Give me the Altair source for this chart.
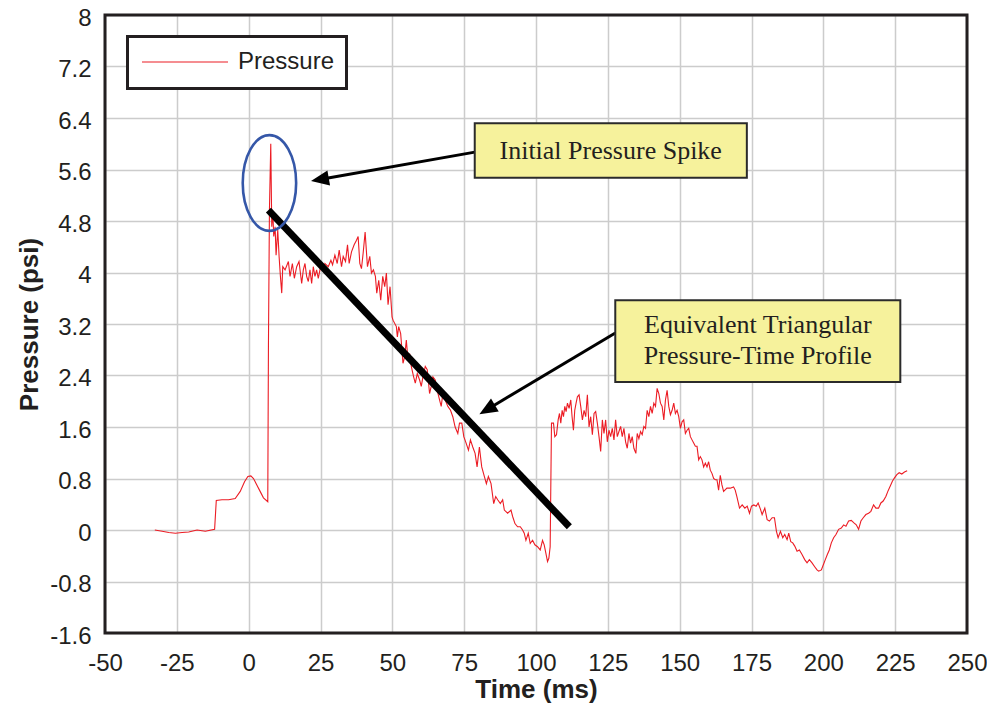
import altair as alt
import pandas as pd

# ---- Pressure trace (time in ms, pressure in psi) ----
time_ms = [
    -32.66, -30.11, -27.80, -25.49, -23.18, -20.86, -17.97, -15.08, -11.85, -11.27,
    -9.30, -6.99, -4.68, -2.94, -1.44, -0.28, 0.76, 1.68, 2.84, 3.99,
    5.15, 6.65, 6.88, 7.23, 7.69,
    8.04, 8.39, 8.73, 9.20, 9.54, 10.12, 10.59, 11.05, 11.51, 11.86,
    12.67, 13.82, 14.40, 15.21, 15.90, 16.71, 17.52, 18.45, 19.02, 19.60,
    20.18, 20.76, 21.34, 21.92, 22.49, 23.07, 23.65, 24.23, 25.15, 25.96,
    26.54, 27.70, 28.62, 29.20, 30.01, 30.82, 31.51, 32.32, 32.90, 33.71,
    34.40, 34.98, 35.79, 36.71, 37.53, 38.10, 38.68, 39.26, 39.84, 40.53,
    41.34, 42.15, 42.73, 43.42, 44.11, 44.58, 45.27, 45.96, 46.66, 47.35,
    47.93, 48.51, 49.20, 49.90,
    50.24, 51.40, 51.75, 52.21, 52.90, 53.71, 54.29, 54.87, 55.45, 56.02,
    56.60, 57.41, 57.99, 58.68, 59.49, 60.07, 60.65, 61.46, 62.15, 62.96,
    63.54, 64.12, 64.93, 65.62, 66.43, 67.01, 67.59, 68.40, 69.32, 70.25,
    71.05, 71.86, 72.79, 73.37, 74.18, 74.87, 75.68, 76.49, 77.18, 77.99,
    78.80, 79.49, 80.30, 81.11, 82.04, 82.73, 83.43, 84.35, 85.28, 85.97,
    86.66, 87.59, 88.40, 88.98, 90.13, 91.29, 91.87, 92.68, 93.60, 94.53,
    95.33, 95.91, 96.49, 97.30, 97.99, 98.80, 99.61, 100.54, 101.46, 102.27,
    102.85, 103.43, 104.01, 104.47, 104.93, 105.39,
    106.09, 106.55, 107.13, 107.71, 108.17, 108.63, 109.10, 109.56, 110.02, 110.48,
    110.95, 111.52, 112.10, 112.56, 113.03, 113.49, 113.95, 114.41, 114.99, 115.57,
    116.15, 116.73, 117.30, 117.88, 118.46, 119.04, 119.62, 120.20, 120.77, 121.35,
    121.93, 122.51, 123.09, 123.66, 124.24, 124.82, 125.40, 125.98, 126.55, 127.13,
    127.71, 128.29, 128.87, 129.45, 130.02, 130.60, 131.18, 131.76, 132.34, 132.91,
    133.49, 134.07, 134.76, 135.23, 135.80, 136.38, 136.96, 137.54, 138.12, 138.69,
    139.27, 139.85, 140.43, 141.01, 141.59, 142.16, 142.74, 143.32, 143.90, 144.48,
    145.05, 145.63, 146.21, 146.79, 147.37, 147.94, 148.52, 149.10, 149.68, 150.26,
    150.83, 151.41, 151.99, 152.57, 153.15, 153.73, 154.30, 154.88, 155.46, 156.04,
    156.62, 157.19, 157.77, 158.35, 158.93, 159.51, 160.08, 160.66, 161.24, 161.82,
    162.40, 162.98, 163.55, 164.13, 164.71, 165.29, 166.44, 167.60, 168.76, 169.33,
    169.91,
    170.83, 171.76, 172.69, 173.50, 174.31, 175.00, 175.81, 176.62, 177.31, 178.13,
    178.70, 179.63, 180.44, 181.25, 182.18, 182.99, 183.68, 184.26, 185.07, 185.88,
    186.57, 187.38, 187.96, 188.66, 189.35, 190.05, 190.86, 191.67, 192.59, 193.52,
    194.33, 195.14, 196.06, 196.99, 197.80, 198.38, 199.31, 200.00, 200.69, 201.39,
    202.08, 202.78, 203.59, 204.40, 205.32, 206.25, 207.06, 207.87, 208.80, 209.72,
    210.65, 211.46, 212.27, 213.08, 213.89, 214.81, 215.74, 216.55, 217.48, 218.29,
    219.21, 220.02, 220.83, 221.76, 222.45, 223.26, 224.07, 224.77, 225.58, 226.39,
    227.31, 228.24, 229.17,
]
pressure_psi = [
    0.00, -0.02, -0.04, -0.05, -0.04, -0.03, 0.00, -0.02, 0.01, 0.46,
    0.47, 0.47, 0.49, 0.60, 0.75, 0.83, 0.84, 0.80, 0.70, 0.60,
    0.50, 0.44, 2.85, 4.97, 6.00,
    4.71, 4.95, 4.56, 4.71, 4.27, 4.66, 4.25, 3.94, 3.68, 4.09,
    4.04, 4.17, 3.94, 4.14, 3.91, 4.09, 4.17, 3.83, 4.04, 4.14,
    3.94, 3.86, 4.04, 3.83, 4.09, 3.94, 4.04, 3.91, 4.12, 4.04,
    4.14, 4.09, 4.19, 4.12, 4.27, 4.14, 4.35, 4.09, 4.25, 4.17,
    4.43, 4.14, 4.32, 4.43, 4.50, 4.56, 4.14, 4.06, 4.30, 4.63,
    4.09, 4.25, 3.99, 4.04, 3.94, 3.68, 3.88, 3.57, 3.94, 3.78,
    3.99, 3.50, 3.78, 3.31,
    3.26, 3.16, 3.00, 3.16, 3.05, 2.59, 2.69, 2.95, 2.64, 2.74,
    2.54, 2.38, 2.28, 2.43, 2.33, 2.23, 2.38, 2.54, 2.49, 2.12,
    2.23, 2.38, 2.33, 2.17, 2.02, 1.92, 2.12, 2.02, 1.92, 1.86,
    1.76, 1.60, 1.50, 1.66, 1.66, 1.45, 1.35, 1.24, 1.40, 1.29,
    1.19, 0.98, 1.29, 0.98, 0.83, 0.72, 0.83, 0.72, 0.41, 0.52,
    0.47, 0.41, 0.47, 0.31, 0.26, 0.31, 0.21, 0.10, 0.05, 0.05,
    0.00, -0.05, -0.16, -0.05, -0.21, -0.16, -0.23, -0.26, -0.31, -0.16,
    -0.23, -0.36, -0.49, -0.44, -0.26, 1.66,
    1.66, 1.45, 1.48, 1.71, 1.81, 1.66, 1.86, 1.76, 1.92, 1.84,
    1.97, 1.89, 2.02, 1.76, 1.55, 1.86, 1.97, 2.07, 2.10, 1.92,
    1.71, 1.86, 1.76, 2.10, 1.60, 1.76, 1.48, 1.81, 1.84, 1.66,
    1.45, 1.22, 1.71, 1.50, 1.71, 1.37, 1.55, 1.45, 1.58, 1.40,
    1.71, 1.45, 1.53, 1.61, 1.45, 1.58, 1.37, 1.27, 1.50, 1.35,
    1.45, 1.27, 1.19, 1.50, 1.42, 1.53, 1.48, 1.61, 1.58, 1.86,
    1.76, 1.92, 1.81, 1.97, 1.92, 2.20, 2.12, 1.97, 1.92, 1.71,
    2.02, 2.17, 1.92, 1.79, 1.86, 1.97, 1.81, 1.86, 1.76, 1.58,
    1.68, 1.71, 1.50, 1.55, 1.58, 1.45, 1.40, 1.35, 1.30, 1.30,
    1.09, 1.14, 1.09, 0.98, 1.04, 0.98, 1.06, 0.93, 0.88, 0.80,
    0.78, 0.78, 0.62, 0.85, 0.70, 0.60, 0.65, 0.65, 0.67, 0.62,
    0.52,
    0.34, 0.39, 0.34, 0.37, 0.26, 0.37, 0.39, 0.37, 0.42, 0.32,
    0.24, 0.34, 0.16, 0.14, 0.19, 0.19, -0.02, -0.12, -0.02, -0.12,
    -0.07, -0.15, -0.05, -0.18, -0.20, -0.25, -0.33, -0.31, -0.38, -0.46,
    -0.51, -0.46, -0.51, -0.57, -0.62, -0.64, -0.62, -0.54, -0.46, -0.38,
    -0.31, -0.20, -0.12, -0.07, 0.01, 0.03, 0.08, 0.06, 0.14, 0.15,
    0.11, 0.08, 0.01, 0.14, 0.19, 0.24, 0.26, 0.29, 0.39, 0.34,
    0.34, 0.42, 0.45, 0.52, 0.60, 0.68, 0.76, 0.81, 0.86, 0.89,
    0.87, 0.90, 0.92,
]
series_name = ["Pressure"]

# ---- Equivalent triangular profile ----
tri_time = [6.88, 111.6]
tri_pressure = [4.97, 0.05]

# ---- Axis ticks ----
x_ticks = [-50, -25, 0, 25, 50, 75, 100, 125, 150, 175, 200, 225, 250]
y_ticks = [-1.6, -0.8, 0, 0.8, 1.6, 2.4, 3.2, 4, 4.8, 5.6, 6.4, 7.2, 8]

# ---- Annotations (data coordinates) ----
ann_text = ["Initial Pressure Spike", "Equivalent Triangular", "Pressure-Time Profile"]
text_t = [126.0, 177.2, 177.2]
text_p = [5.895, 3.185, 2.705]
box_t0 = [78.68, 127.59]
box_t1 = [173.38, 226.79]
box_p0 = [6.32, 3.57]
box_p1 = [5.47, 2.30]
arrow_tail_t = [78.7, 127.6]
arrow_tail_p = [5.87, 3.06]
arrow_tip_t = [21.7, 80.3]
arrow_tip_p = [5.42, 1.80]
arrow_angle = [260, 239.3]
spike_t = [7.23]
spike_p = [5.39]

FONT = "Liberation Sans"
SERIF = "Liberation Serif"
TXT = "#231f20"
RED = "#ec1c24"
PLOT_W, PLOT_H = 862, 618

xs = alt.Scale(domain=[-50, 250], nice=False, zero=False)
ys = alt.Scale(domain=[-1.6, 8], nice=False, zero=False)

x_axis = alt.Axis(
    values=x_ticks, labelExpr="'' + datum.value", title="Time (ms)",
    grid=True, gridColor="#cccccc", gridWidth=1.5, ticks=False, domain=False,
    labelFont=FONT, labelFontSize=24, labelColor=TXT, labelPadding=18,
    labelFlush=False, labelOverlap=False,
    titleFont=FONT, titleFontSize=26, titleFontWeight="bold", titleColor=TXT, titlePadding=1,
)
y_axis = alt.Axis(
    values=y_ticks, labelExpr="'' + datum.value", title="Pressure (psi)",
    grid=True, gridColor="#cccccc", gridWidth=1.5, ticks=False, domain=False,
    labelFont=FONT, labelFontSize=24, labelColor=TXT, labelPadding=14, labelOffset=3,
    labelFlush=False, labelOverlap=False,
    titleFont=FONT, titleFontSize=26, titleFontWeight="bold", titleColor=TXT, titlePadding=7,
)

def X(field):
    return alt.X(field, type="quantitative", scale=xs, axis=x_axis)

def Y(field):
    return alt.Y(field, type="quantitative", scale=ys, axis=y_axis)

line_df = pd.DataFrame({"t": time_ms, "p": pressure_psi})
tri_df = pd.DataFrame({"t": tri_time, "p": tri_pressure})
box_df = pd.DataFrame({"t": box_t0, "t2": box_t1, "p": box_p0, "p2": box_p1})
txt_df = pd.DataFrame({"t": text_t, "p": text_p, "label": ann_text})
arr_df = pd.DataFrame({
    "t": arrow_tail_t, "p": arrow_tail_p,
    "tt": arrow_tip_t, "tp": arrow_tip_p, "ang": arrow_angle,
})
arr_df["t2"] = arr_df["tt"] + (arr_df["t"] - arr_df["tt"]) * 0.07
arr_df["p2"] = arr_df["tp"] + (arr_df["p"] - arr_df["tp"]) * 0.07
spike_df = pd.DataFrame({"t": spike_t, "p": spike_p})
legend_df = pd.DataFrame({"series": series_name})

red_line = alt.Chart(line_df).mark_line(strokeWidth=1.1, color=RED).encode(
    x=X("t"), y=Y("p"), order=alt.Order("t:Q"),
)

tri_line = alt.Chart(tri_df).mark_line(color="black", strokeWidth=7, strokeCap="butt").encode(
    x=X("t"), y=Y("p"),
)

ellipse_path = "M -0.558 0 A 0.558 1 0 1 1 0.558 0 A 0.558 1 0 1 1 -0.558 0 Z"
spike_ring = alt.Chart(spike_df).mark_point(
    shape=ellipse_path, size=9160, filled=False, stroke="#3557a8", strokeWidth=2.6, opacity=1
).encode(x=X("t"), y=Y("p"))

arrow_shafts = alt.Chart(arr_df).mark_rule(color="black", strokeWidth=3).encode(
    x=X("t"), y=Y("p"), x2="t2:Q", y2="p2:Q",
)
arrow_heads = alt.Chart(arr_df).mark_point(
    shape="M 0 0 L 0.42 1 L -0.42 1 Z", size=1296, filled=True, color="black", opacity=1
).encode(
    x=X("tt"), y=Y("tp"), angle=alt.Angle("ang:Q", scale=None),
)

boxes = alt.Chart(box_df).mark_rect(fill="#f6f29c", stroke="#2b2b2b", strokeWidth=2).encode(
    x=X("t"), x2="t2:Q", y=Y("p"), y2="p2:Q",
)
labels = alt.Chart(txt_df).mark_text(
    font=SERIF, fontSize=26, color=TXT, align="center", baseline="middle",
).encode(x=X("t"), y=Y("p"), text="label:N")

# ---- Legend box (drawn in the plot's pixel frame) ----
leg_box = alt.Chart(legend_df).mark_rect(fill="white", stroke=TXT, strokeWidth=3).encode(
    x=alt.value(22.5), x2=alt.value(241.5), y=alt.value(21.5), y2=alt.value(73.5),
)
leg_line = alt.Chart(legend_df).mark_rule(color=RED, strokeWidth=1.2).encode(
    x=alt.value(37), x2=alt.value(123), y=alt.value(47),
)
leg_text = alt.Chart(legend_df).mark_text(
    font=FONT, fontSize=24, color=TXT, align="left", baseline="middle"
).encode(x=alt.value(133), y=alt.value(47), text="series:N")

# ---- Plot frame ----
frame = alt.Chart(legend_df).mark_rect(fill=None, stroke=TXT, strokeWidth=3).encode(
    x=alt.value(0), x2=alt.value(PLOT_W), y=alt.value(0), y2=alt.value(PLOT_H),
)

chart = alt.layer(
    red_line, tri_line, spike_ring, arrow_shafts, arrow_heads, boxes, labels,
    leg_box, leg_line, leg_text, frame,
).properties(
    width=PLOT_W, height=PLOT_H,
    autosize=alt.AutoSizeParams(type="none"),
    padding={"left": 97, "top": 7, "right": 20, "bottom": 70},
    background="white",
).configure_view(
    strokeWidth=0
)

chart.save("out.html", embed_options={"renderer": "svg", "actions": False})
